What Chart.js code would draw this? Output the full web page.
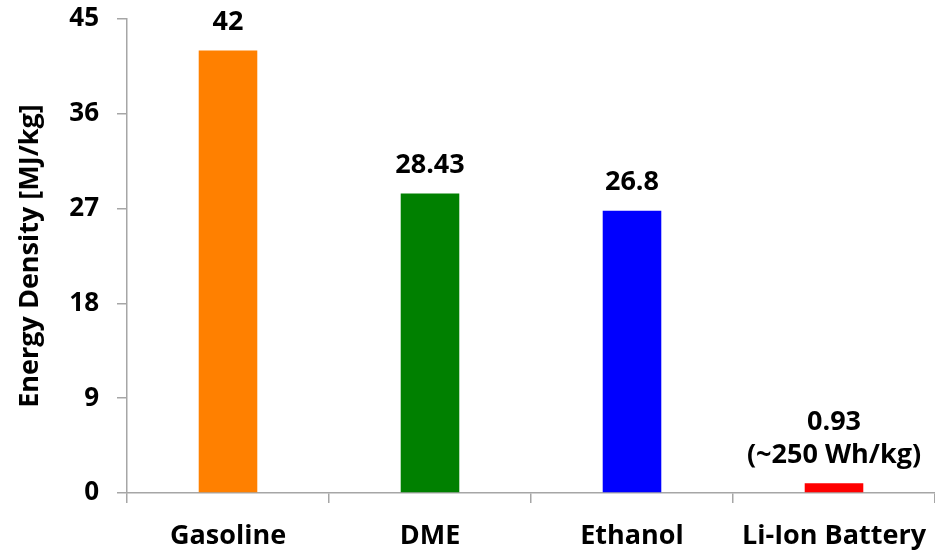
<!DOCTYPE html>
<html>
<head>
<meta charset="utf-8">
<script src="https://cdn.jsdelivr.net/npm/chart.js@4"></script>
<style>
  html, body { margin: 0; padding: 0; background: #fff; }
  #wrap { width: 935px; height: 552px; }
</style>
</head>
<body>
<div id="wrap"><canvas id="energyChart" width="935" height="552"></canvas></div>
<script>
// chart data
const categories = ['Gasoline', 'DME', 'Ethanol', 'Li-Ion Battery'];
const energyValues = [42, 28.43, 26.8, 0.93];
const valueLabels = [['42'], ['28.43'], ['26.8'], ['0.93', '(~250 Wh/kg)']];
const barColors = ['#FF8000', '#008000', '#0000FF', '#FF0000'];
const yTicks = [0, 9, 18, 27, 36, 45];

const fontFamily = '"Open Sans", "Noto Sans", sans-serif';
const axisGray = '#A6A6A6';

// draws the value text above each bar
const barLabels = {
    id: 'barLabels',
    afterDatasetsDraw(chart) {
        const ctx = chart.ctx;
        const meta = chart.getDatasetMeta(0);
        ctx.save();
        ctx.fillStyle = '#000';
        ctx.font = 'bold 27px ' + fontFamily;
        ctx.textAlign = 'center';
        ctx.textBaseline = 'middle';
        meta.data.forEach((bar, i) => {
            const lines = valueLabels[i];
            lines.forEach((line, j) => {
                const y = bar.y - 28 - (lines.length - 1 - j) * 33;
                ctx.fillText(line, bar.x, y);
            });
        });
        ctx.restore();
    }
};

new Chart(document.getElementById('energyChart'), {
    type: 'bar',
    data: {
        labels: categories,
        datasets: [{
            data: energyValues,
            backgroundColor: barColors,
            borderWidth: 0,
            categoryPercentage: 1,
            barPercentage: 0.29
        }]
    },
    options: {
        responsive: false,
        animation: false,
        layout: { padding: { top: 19, right: 0, left: 0, bottom: 0 } },
        plugins: {
            legend: { display: false },
            tooltip: { enabled: false }
        },
        scales: {
            x: {
                grid: {
                    offset: true,
                    drawOnChartArea: false,
                    color: axisGray,
                    tickLength: 10,
                    lineWidth: 1.5
                },
                border: { color: axisGray, width: 1.5 },
                ticks: {
                    color: '#000',
                    font: { family: fontFamily, size: 27, weight: 'bold' },
                    padding: 17,
                    maxRotation: 0
                },
                afterFit(scale) {
                    scale.height = 59;
                    scale.paddingLeft = 0;
                    scale.paddingRight = 0;
                }
            },
            y: {
                min: 0,
                max: 45,
                afterBuildTicks(scale) {
                    scale.ticks = yTicks.map(v => ({ value: v }));
                },
                grid: {
                    drawOnChartArea: false,
                    color: axisGray,
                    tickLength: 10,
                    lineWidth: 1.5
                },
                border: { color: axisGray, width: 1.5 },
                ticks: {
                    color: '#000',
                    font: { family: fontFamily, size: 26, weight: 'bold' },
                    padding: 18
                },
                title: {
                    display: true,
                    text: 'Energy Density [MJ/kg]',
                    color: '#000',
                    font: { family: fontFamily, size: 27, weight: 'bold' },
                    padding: { top: 14, bottom: 0 }
                },
                afterFit(scale) {
                    scale.width = 127;
                    // keep the plot top fixed, labels may overhang
                    scale.paddingTop = 0;
                    scale.paddingBottom = 0;
                }
            }
        }
    },
    plugins: [barLabels]
});
</script>
</body>
</html>
